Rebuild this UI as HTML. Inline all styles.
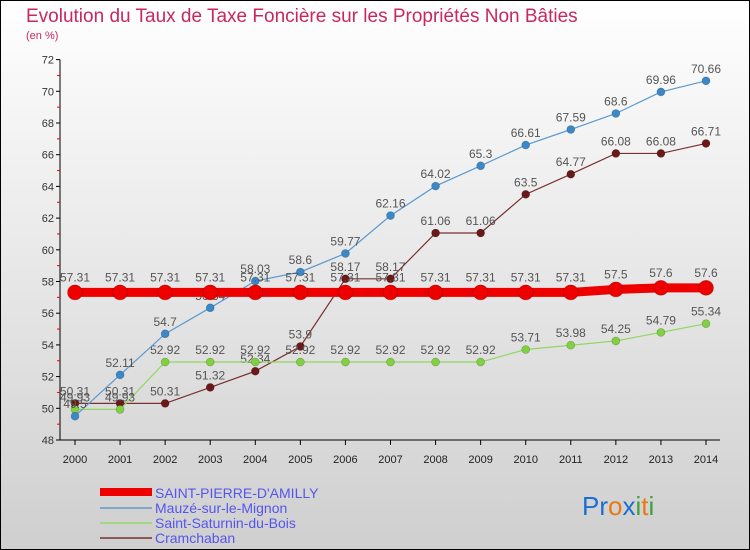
<!DOCTYPE html>
<html><head><meta charset="utf-8"><style>
body{margin:0;}
#c{width:750px;height:550px;position:relative;overflow:hidden;background:linear-gradient(#ffffff,#cfcfcf);font-family:"Liberation Sans",sans-serif;}
</style></head><body>
<div id="c">
<svg id="s" width="750" height="550" xmlns="http://www.w3.org/2000/svg" style="position:absolute;left:0;top:0">
<rect x="0.5" y="0.5" width="749" height="549" fill="none" stroke="#000"/>
<text x="26" y="22" font-size="19" fill="#c8285a">Evolution du Taux de Taxe Foncière sur les Propriétés Non Bâties</text>
<text x="26" y="39" font-size="11" fill="#c8285a">(en %)</text>
<g id="axes"></g><g id="series"></g>
<g>
<rect x="100" y="488" width="52" height="8" fill="#e00"/>
<text x="155" y="498" font-size="14" fill="#5555ee">SAINT-PIERRE-D'AMILLY</text>
<line x1="100" y1="508" x2="152" y2="508" stroke="#7fa8c8" stroke-width="2"/>
<text x="155" y="513" font-size="14" fill="#5555ee">Mauzé-sur-le-Mignon</text>
<line x1="100" y1="523" x2="152" y2="523" stroke="#a4d880" stroke-width="2"/>
<text x="155" y="528" font-size="14" fill="#5555ee">Saint-Saturnin-du-Bois</text>
<line x1="100" y1="538" x2="152" y2="538" stroke="#8a5a5a" stroke-width="2"/>
<text x="155" y="543" font-size="14" fill="#5555ee">Cramchaban</text>
</g>
<g font-size="26">
<text x="582" y="515"><tspan fill="#1a6fd0">Pr</tspan><tspan fill="#e87a10">o</tspan><tspan fill="#1a6fd0">x</tspan><tspan fill="#40a040">i</tspan><tspan fill="#e87a10">t</tspan><tspan fill="#40a040">i</tspan></text>
</g>
</svg>
</div>
<script>
const years=[2000,2001,2002,2003,2004,2005,2006,2007,2008,2009,2010,2011,2012,2013,2014];
const yTicks=[48,50,52,54,56,58,60,62,64,66,68,70,72];
const saintPierre=[57.31,57.31,57.31,57.31,57.31,57.31,57.31,57.31,57.31,57.31,57.31,57.31,57.5,57.6,57.6];
const mauze=[49.5,52.11,54.7,56.34,58.03,58.6,59.77,62.16,64.02,65.3,66.61,67.59,68.6,69.96,70.66];
const saturnin=[49.93,49.93,52.92,52.92,52.92,52.92,52.92,52.92,52.92,52.92,53.71,53.98,54.25,54.79,55.34];
const cramchaban=[50.31,50.31,50.31,51.32,52.34,53.9,58.17,58.17,61.06,61.06,63.5,64.77,66.08,66.08,66.71];
const NS="http://www.w3.org/2000/svg";
function xs(i){return 75+i*(706-75)/(years.length-1);}
function ys(v){return 440-(v-48)*(440-59.6)/24;}
function mk(tag,attrs,parent,txt){const e=document.createElementNS(NS,tag);for(const k in attrs)e.setAttribute(k,attrs[k]);if(txt!==undefined)e.textContent=txt;parent.appendChild(e);return e;}
const ax=document.getElementById('axes');
const yl=mk('line',{x1:60,y1:ys(72),x2:60,y2:ys(48),stroke:'#000'},ax);


const xl=mk('line',{x1:60,y1:ys(48),x2:720,y2:ys(48),stroke:'#000'},ax);


yTicks.forEach(v=>{
 mk('line',{x1:56,y1:ys(v),x2:60,y2:ys(v),stroke:'#000'},ax);
 if(v<72) mk('line',{x1:57,y1:ys(v+1),x2:60,y2:ys(v+1),stroke:'#e00'},ax);
 const t=mk('text',{x:54,y:ys(v)+4,'font-size':11,'text-anchor':'end',fill:'#333'},ax,String(v));
 
 
});
years.forEach((y,i)=>{
 mk('line',{x1:xs(i),y1:ys(48),x2:xs(i),y2:ys(48)+5,stroke:'#000'},ax);
 const t=mk('text',{x:xs(i),y:ys(48)+23,'font-size':11,'text-anchor':'middle',fill:'#222'},ax,String(y));
 
 
});
const sg=document.getElementById('series');
function draw(data,name,line,fill,w,r){
 const g=mk('g',{},sg);
 
 
 const p=mk('polyline',{points:data.map((v,i)=>xs(i)+','+ys(v)).join(' '),fill:'none',stroke:line,'stroke-width':w},g);
 
 
 data.forEach((v,i)=>{
  const c=mk('circle',{cx:xs(i),cy:ys(v),r:r,fill:fill,stroke:'#0004','stroke-width':0.6},g);
  
  
  const t=mk('text',{x:xs(i),y:ys(v)-8-(r>5?3:0),'font-size':12,'text-anchor':'middle',fill:'#555'},g,String(v));
  
  
 });
}
draw(cramchaban,'cramchaban-series','#7a3030','#6a1818',1.2,4);
draw(saturnin,'saint-saturnin-series','#90d860','#80d040',1.2,4);
draw(mauze,'mauze-series','#5a9ad0','#3a88c8',1.2,4);
draw(saintPierre,'saint-pierre-series','#ee0000','#ee0000',9,7.5);
</script>
</body></html>
